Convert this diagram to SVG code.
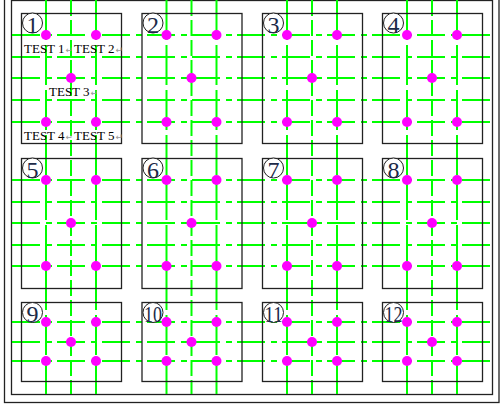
<svg xmlns="http://www.w3.org/2000/svg" width="504" height="408" viewBox="0 0 504 408">
<style>
.frame{fill:none;stroke:#222;stroke-width:1.3}
.box{fill:none;stroke:#222;stroke-width:1.3}
.h{stroke:#00ff00;stroke-width:2;stroke-dasharray:28 6 6 5}
.v{stroke:#00ff00;stroke-width:2;stroke-dasharray:40 5}
.vm{stroke:#00ff00;stroke-width:2;stroke-dasharray:16 4}
.dot{fill:#ff00ff}
.ring{fill:#fff;stroke:#222;stroke-width:1}
.num{font-family:"Liberation Serif","Times New Roman",serif;font-size:24px;fill:#1c2a48;text-anchor:middle}
.lbl{font-family:"Liberation Serif","Times New Roman",serif;font-size:13px;fill:#000}
.ret{font-family:"DejaVu Sans",sans-serif;font-size:9px;fill:#999}
</style>
<rect width="504" height="408" fill="#fff"/>
<g id="frame">
<rect class="frame" x="4.5" y="-10" width="494.5" height="412.5"/>
<rect class="frame" x="11.5" y="0.5" width="481" height="394"/>
</g>
<g id="grid">
<g class="h">
<line x1="12" y1="35" x2="492" y2="35"/><line x1="12" y1="57" x2="492" y2="57"/><line x1="12" y1="78" x2="492" y2="78"/><line x1="12" y1="100" x2="492" y2="100"/><line x1="12" y1="122" x2="492" y2="122"/>
<line x1="12" y1="180" x2="492" y2="180"/><line x1="12" y1="202" x2="492" y2="202"/><line x1="12" y1="223" x2="492" y2="223"/><line x1="12" y1="245" x2="492" y2="245"/><line x1="12" y1="266" x2="492" y2="266"/>
<line x1="12" y1="322" x2="492" y2="322"/><line x1="12" y1="342" x2="492" y2="342"/><line x1="12" y1="361" x2="492" y2="361"/>
</g>
<g class="v">
<line x1="46" y1="0" x2="46" y2="394"/><line x1="96" y1="0" x2="96" y2="394"/>
<line x1="166.5" y1="0" x2="166.5" y2="394"/><line x1="216.5" y1="0" x2="216.5" y2="394"/>
<line x1="287" y1="0" x2="287" y2="394"/><line x1="337" y1="0" x2="337" y2="394"/>
<line x1="407" y1="0" x2="407" y2="394"/><line x1="457" y1="0" x2="457" y2="394"/>
</g>
<g class="vm">
<line x1="71" y1="0" x2="71" y2="394"/><line x1="191.5" y1="0" x2="191.5" y2="394"/><line x1="312" y1="0" x2="312" y2="394"/><line x1="432" y1="0" x2="432" y2="394"/>
</g>
</g>
<g id="node-1">
<rect class="box" x="21.5" y="13.5" width="100" height="130"/>
<circle class="ring" cx="32.5" cy="23" r="10"/><text class="num" x="32.5" y="32.5">1</text>
<circle class="dot" cx="46" cy="35" r="5"/><circle class="dot" cx="96" cy="35" r="5"/><circle class="dot" cx="71" cy="78" r="5"/><circle class="dot" cx="46" cy="122" r="5"/><circle class="dot" cx="96" cy="122" r="5"/>
<text class="lbl" x="24" y="53">TEST 1</text><text class="ret" x="65.5" y="53">↵</text>
<text class="lbl" x="74" y="53">TEST 2</text><text class="ret" x="115.5" y="53">↵</text>
<text class="lbl" x="49" y="96">TEST 3</text><text class="ret" x="90.5" y="96">↵</text>
<text class="lbl" x="24" y="139.5">TEST 4</text><text class="ret" x="65.5" y="139.5">↵</text>
<text class="lbl" x="74" y="139.5">TEST 5</text><text class="ret" x="115.5" y="139.5">↵</text>
</g>
<g id="node-2">
<rect class="box" x="142" y="13.5" width="100" height="130"/>
<circle class="ring" cx="153" cy="23" r="10"/><text class="num" x="153" y="32.5">2</text>
<circle class="dot" cx="166.5" cy="35" r="5"/><circle class="dot" cx="216.5" cy="35" r="5"/><circle class="dot" cx="191.5" cy="78" r="5"/><circle class="dot" cx="166.5" cy="122" r="5"/><circle class="dot" cx="216.5" cy="122" r="5"/>
</g>
<g id="node-3">
<rect class="box" x="262.5" y="13.5" width="100" height="130"/>
<circle class="ring" cx="273.5" cy="23" r="10"/><text class="num" x="273.5" y="32.5">3</text>
<circle class="dot" cx="287" cy="35" r="5"/><circle class="dot" cx="337" cy="35" r="5"/><circle class="dot" cx="312" cy="78" r="5"/><circle class="dot" cx="287" cy="122" r="5"/><circle class="dot" cx="337" cy="122" r="5"/>
</g>
<g id="node-4">
<rect class="box" x="382.5" y="13.5" width="100" height="130"/>
<circle class="ring" cx="393.5" cy="23" r="10"/><text class="num" x="393.5" y="32.5">4</text>
<circle class="dot" cx="407" cy="35" r="5"/><circle class="dot" cx="457" cy="35" r="5"/><circle class="dot" cx="432" cy="78" r="5"/><circle class="dot" cx="407" cy="122" r="5"/><circle class="dot" cx="457" cy="122" r="5"/>
</g>
<g id="node-5">
<rect class="box" x="21.5" y="158.5" width="100" height="130"/>
<circle class="ring" cx="32.5" cy="168" r="10"/><text class="num" x="32.5" y="177.5">5</text>
<circle class="dot" cx="46" cy="180" r="5"/><circle class="dot" cx="96" cy="180" r="5"/><circle class="dot" cx="71" cy="223" r="5"/><circle class="dot" cx="46" cy="266" r="5"/><circle class="dot" cx="96" cy="266" r="5"/>
</g>
<g id="node-6">
<rect class="box" x="142" y="158.5" width="100" height="130"/>
<circle class="ring" cx="153" cy="168" r="10"/><text class="num" x="153" y="177.5">6</text>
<circle class="dot" cx="166.5" cy="180" r="5"/><circle class="dot" cx="216.5" cy="180" r="5"/><circle class="dot" cx="191.5" cy="223" r="5"/><circle class="dot" cx="166.5" cy="266" r="5"/><circle class="dot" cx="216.5" cy="266" r="5"/>
</g>
<g id="node-7">
<rect class="box" x="262.5" y="158.5" width="100" height="130"/>
<circle class="ring" cx="273.5" cy="168" r="10"/><text class="num" x="273.5" y="177.5">7</text>
<circle class="dot" cx="287" cy="180" r="5"/><circle class="dot" cx="337" cy="180" r="5"/><circle class="dot" cx="312" cy="223" r="5"/><circle class="dot" cx="287" cy="266" r="5"/><circle class="dot" cx="337" cy="266" r="5"/>
</g>
<g id="node-8">
<rect class="box" x="382.5" y="158.5" width="100" height="130"/>
<circle class="ring" cx="393.5" cy="168" r="10"/><text class="num" x="393.5" y="177.5">8</text>
<circle class="dot" cx="407" cy="180" r="5"/><circle class="dot" cx="457" cy="180" r="5"/><circle class="dot" cx="432" cy="223" r="5"/><circle class="dot" cx="407" cy="266" r="5"/><circle class="dot" cx="457" cy="266" r="5"/>
</g>
<g id="node-9">
<rect class="box" x="21.5" y="302.5" width="100" height="79"/>
<circle class="ring" cx="32.5" cy="312.5" r="10"/><text class="num" x="32.5" y="322">9</text>
<circle class="dot" cx="46" cy="322" r="5"/><circle class="dot" cx="96" cy="322" r="5"/><circle class="dot" cx="71" cy="342" r="5"/><circle class="dot" cx="46" cy="361" r="5"/><circle class="dot" cx="96" cy="361" r="5"/>
</g>
<g id="node-10">
<rect class="box" x="142" y="302.5" width="100" height="79"/>
<circle class="ring" cx="153" cy="312.5" r="10"/><text class="num" x="153" y="322" textLength="18" lengthAdjust="spacingAndGlyphs">10</text>
<circle class="dot" cx="166.5" cy="322" r="5"/><circle class="dot" cx="216.5" cy="322" r="5"/><circle class="dot" cx="191.5" cy="342" r="5"/><circle class="dot" cx="166.5" cy="361" r="5"/><circle class="dot" cx="216.5" cy="361" r="5"/>
</g>
<g id="node-11">
<rect class="box" x="262.5" y="302.5" width="100" height="79"/>
<circle class="ring" cx="273.5" cy="312.5" r="10"/><text class="num" x="273.5" y="322" textLength="18" lengthAdjust="spacingAndGlyphs">11</text>
<circle class="dot" cx="287" cy="322" r="5"/><circle class="dot" cx="337" cy="322" r="5"/><circle class="dot" cx="312" cy="342" r="5"/><circle class="dot" cx="287" cy="361" r="5"/><circle class="dot" cx="337" cy="361" r="5"/>
</g>
<g id="node-12">
<rect class="box" x="382.5" y="302.5" width="100" height="79"/>
<circle class="ring" cx="393.5" cy="312.5" r="10"/><text class="num" x="393.5" y="322" textLength="18" lengthAdjust="spacingAndGlyphs">12</text>
<circle class="dot" cx="407" cy="322" r="5"/><circle class="dot" cx="457" cy="322" r="5"/><circle class="dot" cx="432" cy="342" r="5"/><circle class="dot" cx="407" cy="361" r="5"/><circle class="dot" cx="457" cy="361" r="5"/>
</g>
</svg>
